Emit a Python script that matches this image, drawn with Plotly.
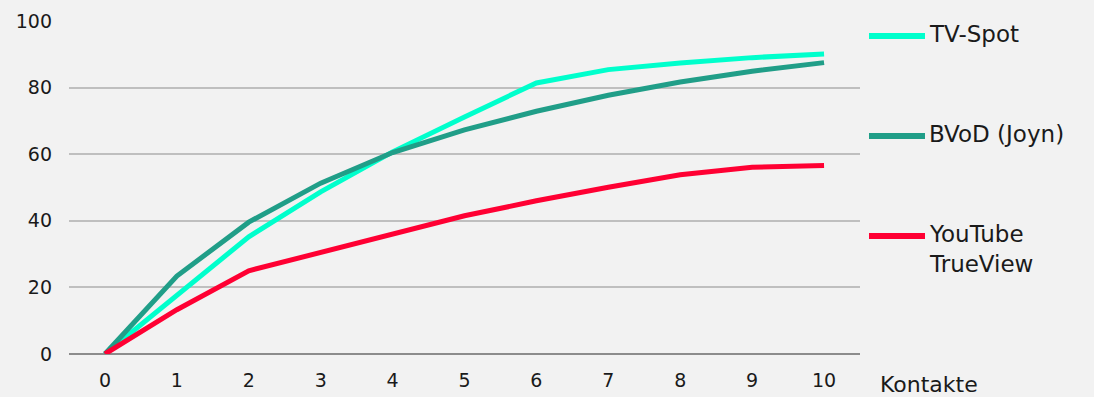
import plotly.graph_objects as go

kontakte = [0, 1, 2, 3, 4, 5, 6, 7, 8, 9, 10]
tv_spot = [0, 17.5, 35.2, 48.7, 60.7, 71.2, 81.4, 85.4, 87.4, 89.0, 90.1]
bvod = [0, 23.4, 39.6, 51.3, 60.5, 67.3, 72.9, 77.7, 81.7, 84.9, 87.5]
youtube = [0, 13.3, 25.0, 30.6, 36.2, 41.5, 46.0, 50.1, 53.8, 56.1, 56.6]

series_names = ["TV-Spot", "BVoD (Joyn)", "YouTube<br>TrueView"]
series_values = [tv_spot, bvod, youtube]
colors = ["#00FFCC", "#209E88", "#FF0033"]

FONT = "DejaVu Sans"
TXT = "#1A1A1A"

# plot area geometry (pixels)
L, R, T, B = 69, 234, 21, 43
W, H = 1094, 397
PW, PH = W - L - R, H - T - B

def px_x(px):
    return (px - L) / PW

def px_y(py):
    return (H - B - py) / PH

fig = go.Figure()
for name, vals, col in zip(series_names, series_values, colors):
    fig.add_trace(go.Scatter(
        x=kontakte, y=vals, name=name, mode="lines",
        line=dict(color=col, width=5), showlegend=False,
    ))

# manual legend (long line keys like the reference)
legend_rows = [36, 136, 236]
shapes = []
annotations = []
for name, col, py in zip(series_names, colors, legend_rows):
    shapes.append(dict(type="line", xref="paper", yref="paper",
                       x0=px_x(869), x1=px_x(925), y0=px_y(py), y1=px_y(py),
                       line=dict(color=col, width=6)))
    annotations.append(dict(text=name, xref="paper", yref="paper",
                            x=px_x(927), y=px_y(py - 17), xanchor="left", yanchor="top",
                            align="left", showarrow=False,
                            font=dict(size=23, family=FONT, color=TXT)))

annotations.append(dict(
    text="Kontakte", xref="paper", yref="paper",
    x=px_x(878), y=px_y(370), xanchor="left", yanchor="top",
    showarrow=False, font=dict(size=22, family=FONT, color=TXT),
))

fig.update_layout(
    width=W, height=H,
    margin=dict(l=L, r=R, t=T, b=B, autoexpand=False),
    paper_bgcolor="#F2F2F2", plot_bgcolor="#F2F2F2",
    font=dict(family=FONT, size=19, color=TXT),
    xaxis=dict(
        range=[-0.5, 10.5], tickmode="array", tickvals=kontakte,
        showgrid=False, zeroline=False, showline=False, ticks="",
        tickfont=dict(size=19), ticklabelstandoff=13, fixedrange=True,
    ),
    yaxis=dict(
        range=[0, 100], tickvals=[0, 20, 40, 60, 80, 100],
        showgrid=True, gridcolor="#BFBFBF", gridwidth=1.5,
        zeroline=True, zerolinecolor="#8C8C8C", zerolinewidth=2,
        showline=False, ticks="", ticklabelstandoff=16,
        tickfont=dict(size=19), fixedrange=True,
    ),
    shapes=shapes,
    annotations=annotations,
)

fig.write_html("out.html")
